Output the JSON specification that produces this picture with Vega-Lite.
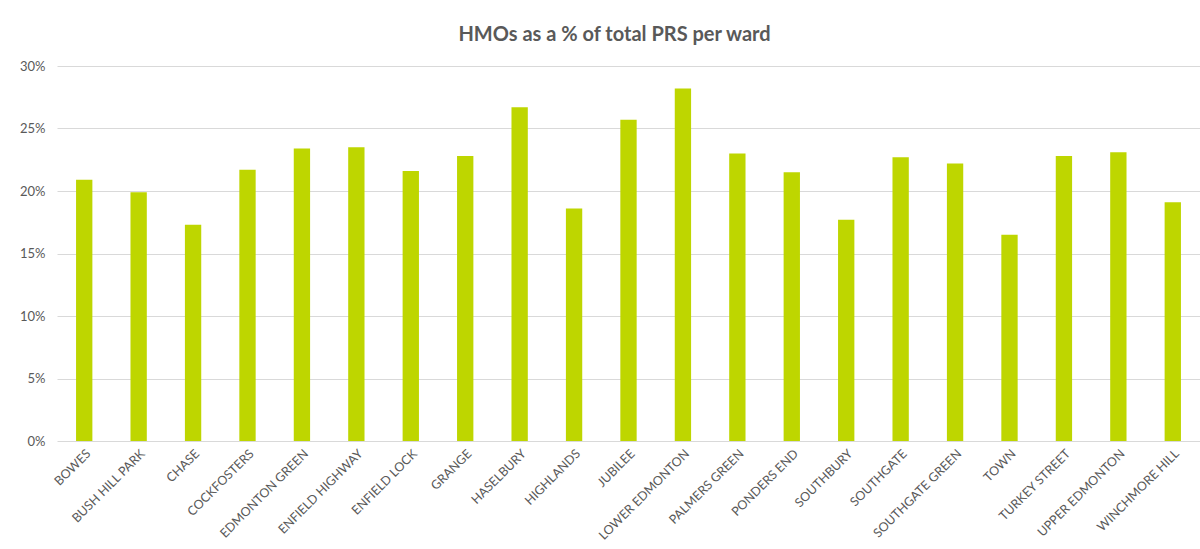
{
  "$schema": "https://vega.github.io/schema/vega-lite/v6.json",
  "autosize": {"type": "none"},
  "width": 1143,
  "height": 375,
  "padding": {"left": 57, "top": 66, "right": 0, "bottom": 108},
  "background": "white",
  "title": {
    "text": "HMOs as a % of total PRS per ward",
    "font": "Lato",
    "fontSize": 20,
    "fontWeight": "bold",
    "color": "#595959",
    "anchor": "middle",
    "dx": -14,
    "offset": 15
  },
  "data": {
    "values": [
      {"ward": "BOWES", "share": 0.209},
      {"ward": "BUSH HILL PARK", "share": 0.199},
      {"ward": "CHASE", "share": 0.173},
      {"ward": "COCKFOSTERS", "share": 0.217},
      {"ward": "EDMONTON GREEN", "share": 0.234},
      {"ward": "ENFIELD HIGHWAY", "share": 0.235},
      {"ward": "ENFIELD LOCK", "share": 0.216},
      {"ward": "GRANGE", "share": 0.228},
      {"ward": "HASELBURY", "share": 0.267},
      {"ward": "HIGHLANDS", "share": 0.186},
      {"ward": "JUBILEE", "share": 0.257},
      {"ward": "LOWER EDMONTON", "share": 0.282},
      {"ward": "PALMERS GREEN", "share": 0.230},
      {"ward": "PONDERS END", "share": 0.215},
      {"ward": "SOUTHBURY", "share": 0.177},
      {"ward": "SOUTHGATE", "share": 0.227},
      {"ward": "SOUTHGATE GREEN", "share": 0.222},
      {"ward": "TOWN", "share": 0.165},
      {"ward": "TURKEY STREET", "share": 0.228},
      {"ward": "UPPER EDMONTON", "share": 0.231},
      {"ward": "WINCHMORE HILL", "share": 0.191}
    ]
  },
  "mark": {"type": "bar", "color": "#BED600"},
  "encoding": {
    "x": {
      "field": "ward",
      "type": "nominal",
      "sort": null,
      "scale": {"paddingInner": 0.7, "paddingOuter": 0.35},
      "axis": {
        "title": null,
        "labelAngle": -45,
        "labelFont": "Lato",
        "labelFontSize": 12.5,
        "labelColor": "#595959",
        "ticks": false,
        "domain": false,
        "labelPadding": 6
      }
    },
    "y": {
      "field": "share",
      "type": "quantitative",
      "scale": {"domain": [0, 0.3], "nice": false},
      "axis": {
        "title": null,
        "format": ".0%",
        "values": [0, 0.05, 0.1, 0.15, 0.2, 0.25, 0.3],
        "labelFont": "Lato",
        "labelFontSize": 13,
        "labelColor": "#595959",
        "ticks": false,
        "domain": false,
        "labelPadding": 12,
        "grid": true,
        "gridColor": "#D9D9D9",
        "gridWidth": 1
      }
    }
  },
  "config": {
    "view": {"stroke": null}
  }
}
